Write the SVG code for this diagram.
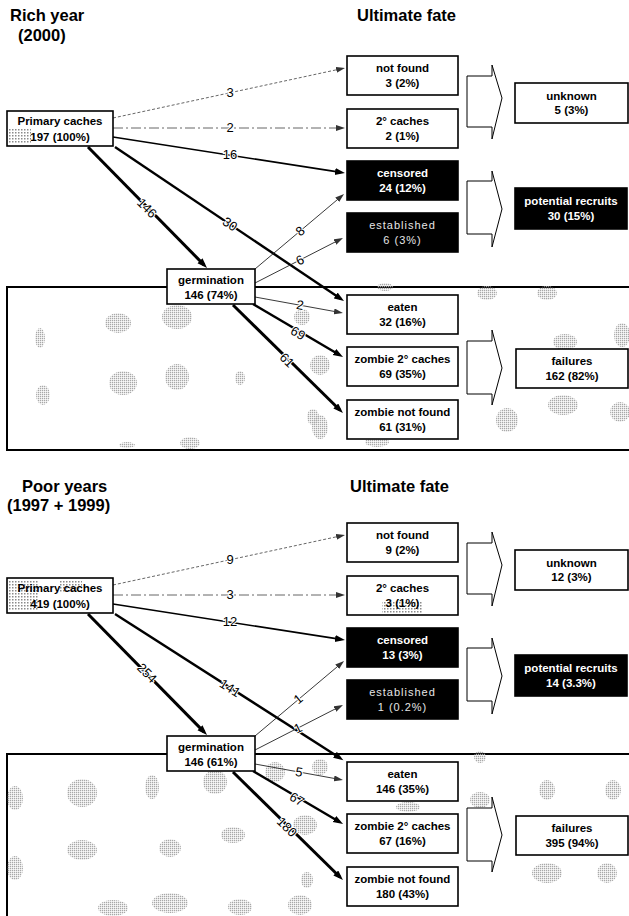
<svg xmlns="http://www.w3.org/2000/svg" width="629" height="916" viewBox="0 0 629 916">
<style>
text{font-family:"Liberation Sans",Arial,sans-serif}
.title{font-size:16.5px;font-weight:bold;fill:#000}
.box{fill:#fff;stroke:#000;stroke-width:1.6}
.dark{fill:#000;stroke:#000;stroke-width:1.6}
.t{font-size:11.5px;font-weight:bold;text-anchor:middle;fill:#000}
.tw{font-size:11.5px;font-weight:bold;text-anchor:middle;fill:#fff}
.tl{font-size:11px;text-anchor:middle;fill:#e6e6e6;letter-spacing:1px}
.lbl{font-size:13px;text-anchor:middle;fill:#000;stroke:#fff;stroke-width:2;paint-order:stroke}
.blk{fill:#fff;stroke:#000;stroke-width:1}
.region{fill:#fff;stroke:#000;stroke-width:2}
.blob{fill:url(#ht)}
.dotg{stroke:#555;stroke-width:0.9;stroke-dasharray:3 2;fill:none}
.dashd{stroke:#555;stroke-width:0.9;stroke-dasharray:10 3 2 3;fill:none}
.thin{stroke:#222;stroke-width:0.9;fill:none}
.med{stroke:#000;stroke-width:1.6;fill:none}
.thick{stroke:#000;stroke-width:2.4;fill:none}
.heavy{stroke:#000;stroke-width:3;fill:none}
</style>
<defs>
<pattern id="ht" width="2" height="2" patternUnits="userSpaceOnUse"><rect width="1.3" height="1.3" fill="#a8a8a8"/></pattern>
<pattern id="ht2" width="3" height="3" patternUnits="userSpaceOnUse"><rect width="1.5" height="1.5" fill="#8a8a8a"/></pattern>
<marker id="ah" markerUnits="userSpaceOnUse" markerWidth="11" markerHeight="8" refX="6" refY="3.5" orient="auto"><path d="M0,0 L10,3.5 L0,7 z" fill="#000"/></marker>
<marker id="ahg" markerUnits="userSpaceOnUse" markerWidth="10" markerHeight="7" refX="5" refY="3" orient="auto"><path d="M0,0 L9,3 L0,6 z" fill="#333"/></marker>
</defs>
<rect width="629" height="916" fill="#fff"/>

<!-- titles -->
<g id="titles">
<text class="title" x="10" y="21">Rich year</text>
<text class="title" x="18" y="41">(2000)</text>
<text class="title" x="357" y="21">Ultimate fate</text>
<text class="title" x="22" y="492">Poor years</text>
<text class="title" x="7" y="511">(1997 + 1999)</text>
<text class="title" x="350" y="492">Ultimate fate</text>
</g>

<!-- background regions with scanned texture -->
<g id="regions">
<rect class="region" x="7" y="287" width="640" height="163"/>
<rect class="region" x="7" y="754" width="640" height="200"/>
<g class="blob">
<ellipse cx="40" cy="338" rx="5" ry="10"/>
<ellipse cx="118" cy="323" rx="13" ry="10"/>
<ellipse cx="177" cy="317" rx="15" ry="12"/>
<ellipse cx="123" cy="383" rx="14" ry="12"/>
<ellipse cx="177" cy="377" rx="12" ry="13"/>
<ellipse cx="240" cy="378" rx="5" ry="7"/>
<ellipse cx="43" cy="395" rx="7" ry="10"/>
<ellipse cx="190" cy="443" rx="10" ry="6"/>
<ellipse cx="127" cy="445" rx="8" ry="3"/>
<ellipse cx="302" cy="317" rx="8" ry="8"/>
<ellipse cx="320" cy="365" rx="10" ry="10"/>
<ellipse cx="320" cy="427" rx="8" ry="12"/>
<ellipse cx="385" cy="287" rx="8" ry="4"/>
<ellipse cx="487" cy="293" rx="10" ry="7"/>
<ellipse cx="547" cy="293" rx="10" ry="7"/>
<ellipse cx="565" cy="342" rx="12" ry="8"/>
<ellipse cx="622" cy="335" rx="8" ry="12"/>
<ellipse cx="507" cy="420" rx="11" ry="12"/>
<ellipse cx="563" cy="405" rx="15" ry="10"/>
<ellipse cx="620" cy="412" rx="10" ry="10"/>
<ellipse cx="377" cy="442" rx="12" ry="5"/>
<ellipse cx="313" cy="417" rx="6" ry="8"/>
<ellipse cx="15" cy="798" rx="8" ry="12"/>
<ellipse cx="82" cy="793" rx="15" ry="14"/>
<ellipse cx="152" cy="787" rx="7" ry="12"/>
<ellipse cx="215" cy="782" rx="12" ry="12"/>
<ellipse cx="82" cy="850" rx="15" ry="10"/>
<ellipse cx="170" cy="848" rx="11" ry="9"/>
<ellipse cx="233" cy="835" rx="12" ry="8"/>
<ellipse cx="15" cy="868" rx="8" ry="12"/>
<ellipse cx="113" cy="908" rx="15" ry="8"/>
<ellipse cx="170" cy="903" rx="18" ry="10"/>
<ellipse cx="240" cy="907" rx="12" ry="8"/>
<ellipse cx="300" cy="905" rx="12" ry="10"/>
<ellipse cx="307" cy="880" rx="6" ry="8"/>
<ellipse cx="305" cy="825" rx="12" ry="10"/>
<ellipse cx="275" cy="772" rx="10" ry="10"/>
<ellipse cx="320" cy="767" rx="8" ry="8"/>
<ellipse cx="480" cy="757" rx="6" ry="6"/>
<ellipse cx="480" cy="800" rx="10" ry="8"/>
<ellipse cx="547" cy="790" rx="8" ry="10"/>
<ellipse cx="613" cy="790" rx="8" ry="10"/>
<ellipse cx="547" cy="873" rx="15" ry="10"/>
<ellipse cx="607" cy="873" rx="10" ry="10"/>
<ellipse cx="408" cy="807" rx="12" ry="5"/>
</g>
</g>

<!-- ===== Rich year panel ===== -->
<g id="rich" transform="translate(0,0)">
<g id="rich-connectors">
<line class="dotg" x1="113" y1="118" x2="341.1" y2="68.8" marker-end="url(#ahg)"/>
<line class="dashd" x1="113" y1="128" x2="341" y2="128" marker-end="url(#ahg)"/>
<line class="med" x1="113" y1="137" x2="341" y2="172.4" marker-end="url(#ah)"/>
<line class="heavy" x1="88" y1="147" x2="204.2" y2="265.1" marker-end="url(#ah)"/>
<line class="thick" x1="115" y1="147" x2="340.7" y2="298.8" marker-end="url(#ah)"/>
<line class="thin" x1="255" y1="269" x2="341" y2="196.6" marker-end="url(#ahg)"/>
<line class="thin" x1="255" y1="283" x2="339.4" y2="239.8" marker-end="url(#ahg)"/>
<line class="thin" x1="255" y1="297" x2="339" y2="312.3" marker-end="url(#ahg)"/>
<line class="thick" x1="253" y1="304" x2="339.6" y2="355" marker-end="url(#ah)"/>
<line class="heavy" x1="233" y1="305" x2="340.1" y2="410.2" marker-end="url(#ah)"/>
<text class="lbl" x="230" y="97">3</text>
<text class="lbl" x="230" y="132">2</text>
<text class="lbl" x="230" y="159">16</text>
<text class="lbl" transform="translate(147,208) rotate(45.5)" y="4.5">146</text>
<text class="lbl" transform="translate(230,224) rotate(34)" y="4.5">30</text>
<text class="lbl" transform="translate(300,231) rotate(-40)" y="4.5">8</text>
<text class="lbl" transform="translate(300,260) rotate(-27)" y="4.5">6</text>
<text class="lbl" transform="translate(300,305) rotate(10)" y="4.5">2</text>
<text class="lbl" transform="translate(298,333) rotate(30.5)" y="4.5">69</text>
<text class="lbl" transform="translate(287,360) rotate(44.5)" y="4.5">61</text>
</g>
<g id="rich-primary"><rect class="box" x="7" y="111" width="106" height="35"/><rect x="9" y="128" width="22" height="16" fill="url(#ht2)"/><text class="t" x="60" y="125">Primary caches</text><text class="t" x="60" y="141">197 (100%)</text></g>
<g id="rich-germination"><rect class="box" x="167" y="269" width="88" height="35"/><text class="t" x="211" y="284">germination</text><text class="t" x="211" y="299">146 (74%)</text></g>
<g id="rich-notfound"><rect class="box" x="347" y="56" width="111" height="39"/><text class="t" x="402.5" y="71.5">not found</text><text class="t" x="402.5" y="87">3 (2%)</text></g>
<g id="rich-caches2"><rect class="box" x="347" y="109" width="111" height="39"/><text class="t" x="402.5" y="124.5">2° caches</text><text class="t" x="402.5" y="140">2 (1%)</text></g>
<g id="rich-censored"><rect class="dark" x="347" y="161" width="111" height="39"/><text class="tw" x="402.5" y="176.5">censored</text><text class="tw" x="402.5" y="192">24 (12%)</text></g>
<g id="rich-established"><rect class="dark" x="347" y="213" width="111" height="39"/><text class="tl" x="402.5" y="228.5">established</text><text class="tl" x="402.5" y="244">6 (3%)</text></g>
<g id="rich-eaten"><rect class="box" x="347" y="295" width="111" height="39"/><text class="t" x="402.5" y="310.5">eaten</text><text class="t" x="402.5" y="326">32 (16%)</text></g>
<g id="rich-zombie2"><rect class="box" x="347" y="347" width="111" height="39"/><text class="t" x="402.5" y="362.5">zombie 2° caches</text><text class="t" x="402.5" y="378">69 (35%)</text></g>
<g id="rich-zombienf"><rect class="box" x="347" y="400" width="111" height="39"/><text class="t" x="402.5" y="415.5">zombie not found</text><text class="t" x="402.5" y="431">61 (31%)</text></g>
<g id="rich-arrows">
<path class="blk" d="M467,76 L492,76 L492,65 L502,98 L492,139 L492,127 L467,127 Z"/>
<path class="blk" d="M467,181 L492,181 L492,171 L502,209 L492,247 L492,234 L467,234 Z"/>
<path class="blk" d="M467,341 L492,341 L492,330 L502,368 L492,405 L492,394 L467,394 Z"/>
</g>
<g id="rich-unknown"><rect class="box" x="515" y="83" width="113" height="40"/><text class="t" x="571.5" y="100">unknown</text><text class="t" x="571.5" y="114">5 (3%)</text></g>
<g id="rich-recruits"><rect class="dark" x="515" y="188" width="112" height="41"/><text class="tw" x="571" y="205">potential recruits</text><text class="tw" x="571" y="220">30 (15%)</text></g>
<g id="rich-failures"><rect class="box" x="516" y="349" width="112" height="39"/><text class="t" x="572" y="365">failures</text><text class="t" x="572" y="380">162 (82%)</text></g>
</g>

<!-- ===== Poor years panel ===== -->
<g id="poor" transform="translate(0,467)">
<g id="poor-connectors">
<line class="dotg" x1="113" y1="118" x2="341.1" y2="68.8" marker-end="url(#ahg)"/>
<line class="dashd" x1="113" y1="128" x2="341" y2="128" marker-end="url(#ahg)"/>
<line class="med" x1="113" y1="137" x2="341" y2="172.4" marker-end="url(#ah)"/>
<line class="heavy" x1="88" y1="147" x2="204.2" y2="265.1" marker-end="url(#ah)"/>
<line class="thick" x1="115" y1="147" x2="340" y2="291" marker-end="url(#ah)"/>
<line class="thin" x1="255" y1="269" x2="341" y2="196.6" marker-end="url(#ahg)"/>
<line class="thin" x1="255" y1="283" x2="339.4" y2="239.8" marker-end="url(#ahg)"/>
<line class="thin" x1="255" y1="297" x2="339" y2="312.3" marker-end="url(#ahg)"/>
<line class="thick" x1="253" y1="304" x2="339.6" y2="355" marker-end="url(#ah)"/>
<line class="heavy" x1="233" y1="305" x2="340.1" y2="410.2" marker-end="url(#ah)"/>
<text class="lbl" x="230" y="97">9</text>
<text class="lbl" x="230" y="132">3</text>
<text class="lbl" x="230" y="159">12</text>
<text class="lbl" transform="translate(147,206) rotate(45.5)" y="4.5">254</text>
<text class="lbl" transform="translate(230,221) rotate(32.5)" y="4.5">141</text>
<text class="lbl" transform="translate(298,232) rotate(-40)" y="4.5">1</text>
<text class="lbl" transform="translate(298,261) rotate(-27)" y="4.5">1</text>
<text class="lbl" transform="translate(299,305) rotate(10)" y="4.5">5</text>
<text class="lbl" transform="translate(297,332) rotate(30.5)" y="4.5">67</text>
<text class="lbl" transform="translate(287,360) rotate(44.5)" y="4.5">180</text>
</g>
<g id="poor-primary"><rect class="box" x="7" y="111" width="106" height="35"/><rect x="9" y="113" width="30" height="31" fill="url(#ht2)"/><rect x="60" y="113" width="22" height="12" fill="url(#ht2)"/><text class="t" x="60" y="125">Primary caches</text><text class="t" x="60" y="141">419 (100%)</text></g>
<g id="poor-germination"><rect class="box" x="167" y="269" width="88" height="35"/><text class="t" x="211" y="284">germination</text><text class="t" x="211" y="299">146 (61%)</text></g>
<g id="poor-notfound"><rect class="box" x="347" y="56" width="111" height="39"/><text class="t" x="402.5" y="71.5">not found</text><text class="t" x="402.5" y="87">9 (2%)</text></g>
<g id="poor-caches2"><rect class="box" x="347" y="109" width="111" height="39"/><rect x="382" y="134" width="40" height="12" fill="url(#ht2)"/><text class="t" x="402.5" y="124.5">2° caches</text><text class="t" x="402.5" y="140">3 (1%)</text></g>
<g id="poor-censored"><rect class="dark" x="347" y="161" width="111" height="39"/><text class="tw" x="402.5" y="176.5">censored</text><text class="tw" x="402.5" y="192">13 (3%)</text></g>
<g id="poor-established"><rect class="dark" x="347" y="213" width="111" height="39"/><text class="tl" x="402.5" y="228.5">established</text><text class="tl" x="402.5" y="244">1 (0.2%)</text></g>
<g id="poor-eaten"><rect class="box" x="347" y="295" width="111" height="39"/><text class="t" x="402.5" y="310.5">eaten</text><text class="t" x="402.5" y="326">146 (35%)</text></g>
<g id="poor-zombie2"><rect class="box" x="347" y="347" width="111" height="39"/><text class="t" x="402.5" y="362.5">zombie 2° caches</text><text class="t" x="402.5" y="378">67 (16%)</text></g>
<g id="poor-zombienf"><rect class="box" x="347" y="400" width="111" height="39"/><text class="t" x="402.5" y="415.5">zombie not found</text><text class="t" x="402.5" y="431">180 (43%)</text></g>
<g id="poor-arrows">
<path class="blk" d="M467,76 L492,76 L492,65 L502,98 L492,139 L492,127 L467,127 Z"/>
<path class="blk" d="M467,181 L492,181 L492,171 L502,209 L492,247 L492,234 L467,234 Z"/>
<path class="blk" d="M467,341 L492,341 L492,330 L502,368 L492,405 L492,394 L467,394 Z"/>
</g>
<g id="poor-unknown"><rect class="box" x="515" y="83" width="113" height="40"/><text class="t" x="571.5" y="100">unknown</text><text class="t" x="571.5" y="114">12 (3%)</text></g>
<g id="poor-recruits"><rect class="dark" x="515" y="188" width="112" height="41"/><text class="tw" x="571" y="205">potential recruits</text><text class="tw" x="571" y="220">14 (3.3%)</text></g>
<g id="poor-failures"><rect class="box" x="516" y="349" width="112" height="39"/><text class="t" x="572" y="365">failures</text><text class="t" x="572" y="380">395 (94%)</text></g>
</g>
</svg>
